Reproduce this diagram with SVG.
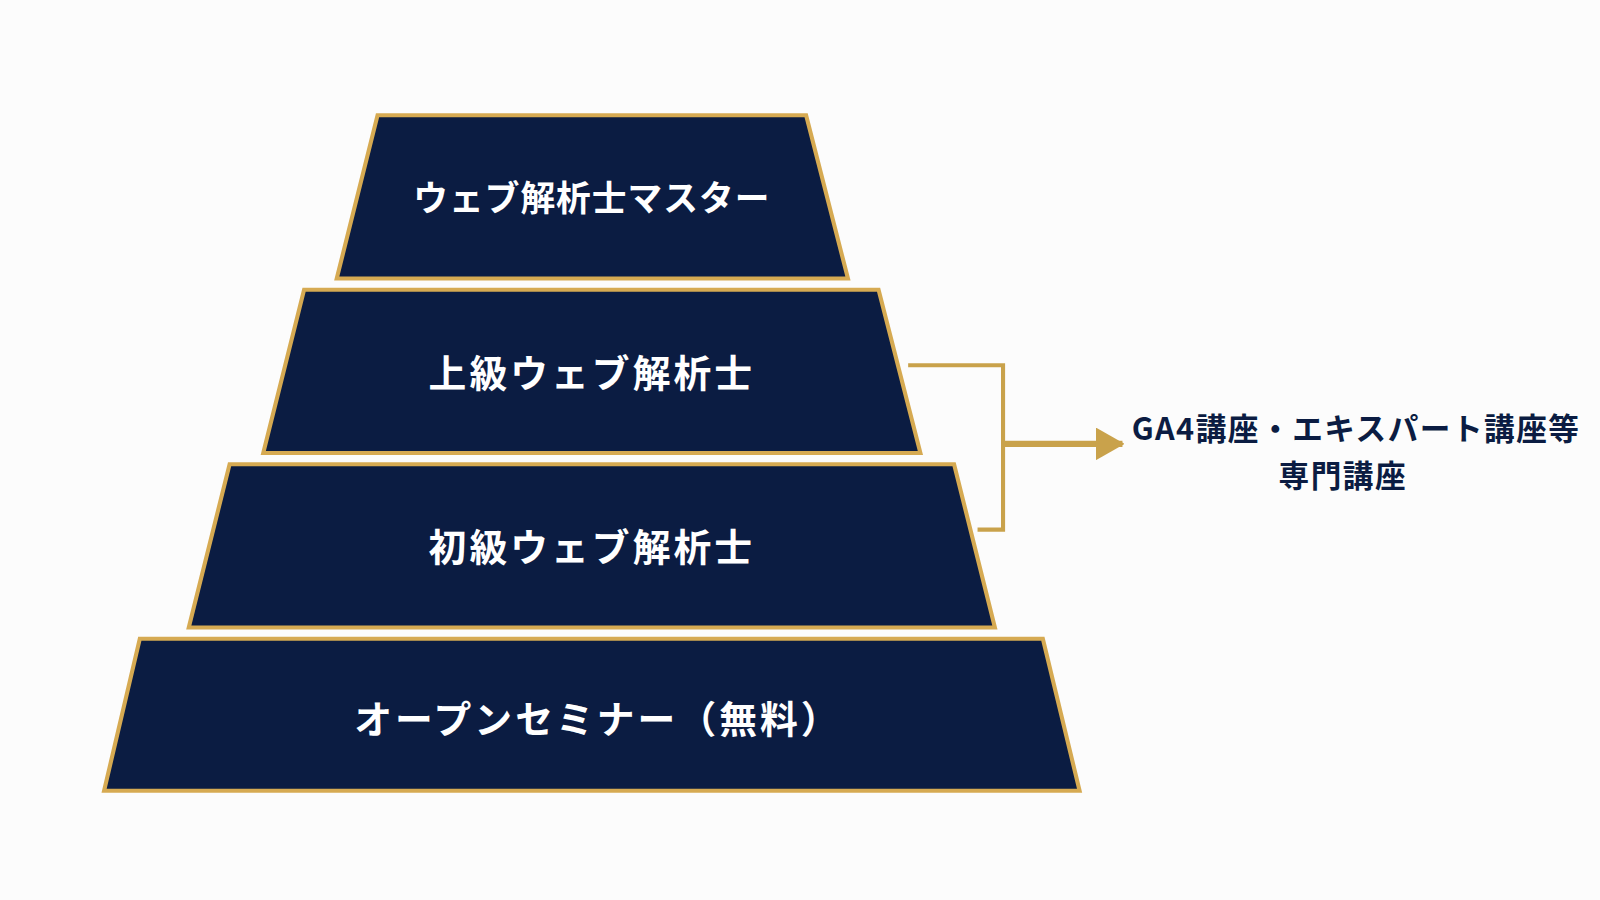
<svg xmlns="http://www.w3.org/2000/svg" width="1600" height="900" viewBox="0 0 1600 900">
<style>
.t{fill:#0b1c42;stroke:#d6aa52;stroke-width:4;stroke-linejoin:miter}
.l{fill:#fff;font-family:"Noto Sans CJK JP","Noto Sans",sans-serif;font-weight:bold;font-size:37px;text-anchor:middle;letter-spacing:3px}
.r{fill:#0b1c42;font-family:"Noto Sans CJK JP","Noto Sans",sans-serif;font-weight:bold;font-size:30px;text-anchor:middle;letter-spacing:1.5px}
</style>
<defs><marker id="a" markerWidth="28" markerHeight="32" refX="26" refY="16" orient="auto" markerUnits="userSpaceOnUse" viewBox="0 0 28 32"><path d="M0,0L28,16L0,32z" fill="#c9a24b"/></marker></defs>
<rect width="1600" height="900" fill="#fcfcfc"/>
<g transform="scale(1.0204)">
<g id="n1"><polygon class="t" points="370,113 790,113 831,273 330,273"/><text class="l" x="580" y="207" style="font-size:34px;letter-spacing:1px">ウェブ解析士マスター</text></g>
<g id="n2"><polygon class="t" points="298,284 861,284 902,444 258,444"/><text class="l" x="580" y="379">上級ウェブ解析士</text></g>
<g id="n3"><polygon class="t" points="225,455 935,455 975,615 185,615"/><text class="l" x="580" y="550">初級ウェブ解析士</text></g>
<g id="n4"><polygon class="t" points="137,626 1022,626 1058,775 102,775"/><text class="l" x="586" y="718">オープンセミナー（無料）</text></g>
<g id="c" fill="none" stroke="#c9a24b" stroke-width="4">
<polyline points="890,358 983,358 983,519 958,519"/>
<line x1="983" y1="435" x2="1100" y2="435" stroke-width="6" marker-end="url(#a)"/>
</g>
<g id="n5"><text class="r" x="1329" y="431">GA4講座・エキスパート講座等</text><text class="r" x="1316" y="477">専門講座</text></g>
</g>
</svg>
